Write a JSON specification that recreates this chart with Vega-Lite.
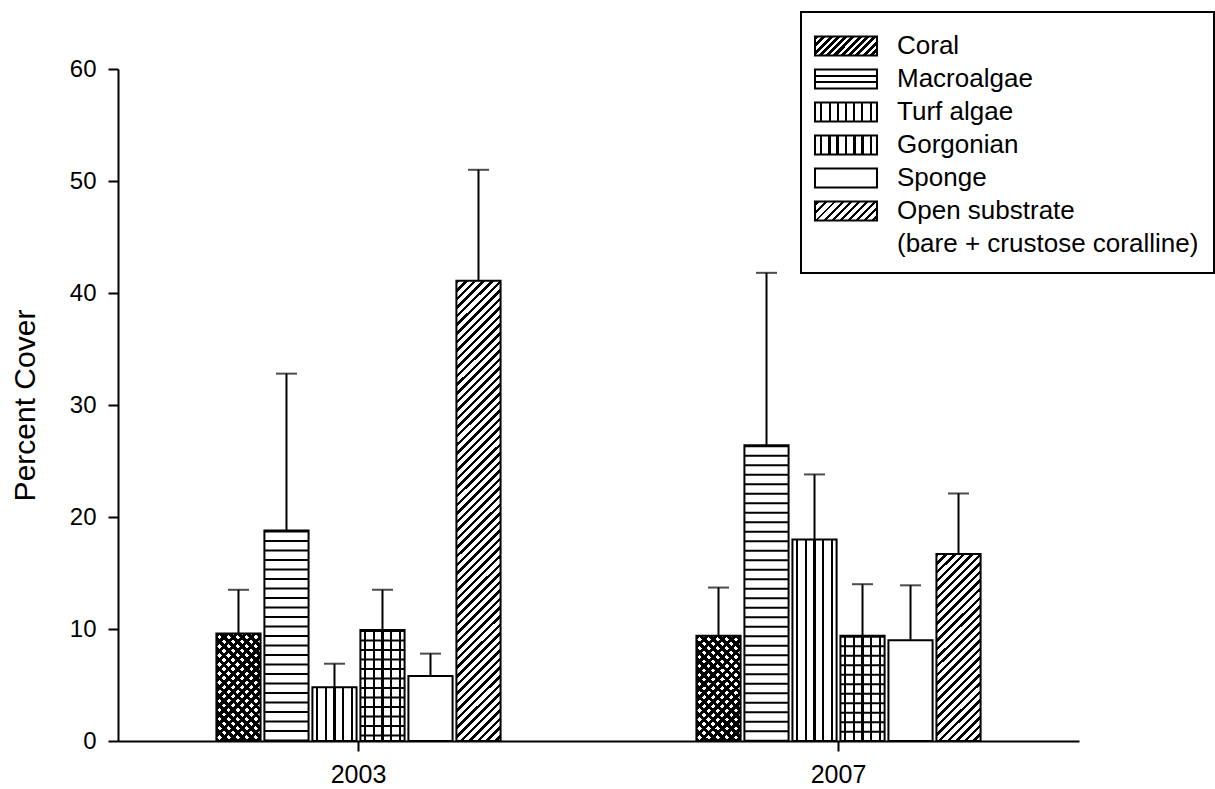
{
  "$schema": "https://vega.github.io/schema/vega-lite/v6.json",
  "width": 961,
  "height": 672,
  "autosize": {"type": "none"},
  "padding": {"left": 118, "top": 69, "right": 136, "bottom": 48},
  "background": "white",
  "config": {
    "view": {"stroke": null},
    "font": "Liberation Sans",
    "axis": {"domainColor": "black", "domainWidth": 2, "tickColor": "black", "tickWidth": 2, "labelColor": "black", "titleColor": "black", "grid": false},
    "legend": {"strokeWidth": 2}
  },
  "data": {
    "values": [
      {"year": "2003", "type": "Coral", "value": 9.6, "upper": 13.5},
      {"year": "2003", "type": "Macroalgae", "value": 18.8, "upper": 32.8},
      {"year": "2003", "type": "Turf algae", "value": 4.8, "upper": 6.9},
      {"year": "2003", "type": "Gorgonian", "value": 9.9, "upper": 13.5},
      {"year": "2003", "type": "Sponge", "value": 5.8, "upper": 7.8},
      {"year": "2003", "type": "Open substrate", "value": 41.1, "upper": 51.0},
      {"year": "2007", "type": "Coral", "value": 9.4, "upper": 13.7},
      {"year": "2007", "type": "Macroalgae", "value": 26.4, "upper": 41.8},
      {"year": "2007", "type": "Turf algae", "value": 18.0, "upper": 23.8},
      {"year": "2007", "type": "Gorgonian", "value": 9.4, "upper": 14.0},
      {"year": "2007", "type": "Sponge", "value": 9.0, "upper": 13.9},
      {"year": "2007", "type": "Open substrate", "value": 16.7, "upper": 22.1}
    ]
  },
  "encoding": {
    "x": {
      "field": "year", "type": "nominal",
      "scale": {"domain": ["2003", "2007"], "paddingInner": 0.408, "paddingOuter": 0.205},
      "axis": {"title": null, "labelAngle": 0, "labelFontSize": 25, "tickSize": 10, "labelPadding": 11}
    },
    "xOffset": {
      "field": "type", "type": "nominal",
      "scale": {"domain": ["Coral", "Macroalgae", "Turf algae", "Gorgonian", "Sponge", "Open substrate"], "paddingInner": 0.08, "paddingOuter": 0}
    }
  },
  "layer": [
    {
      "mark": {"type": "bar", "fill": "white", "stroke": "black", "strokeWidth": 2},
      "encoding": {
        "y": {
          "field": "value", "type": "quantitative",
          "scale": {"domain": [0, 60], "nice": false},
          "axis": {"title": "Percent Cover", "titleFontSize": 30, "titleFontWeight": "normal", "titleX": -84, "titleY": 336, "titleBaseline": "alphabetic", "values": [0, 10, 20, 30, 40, 50, 60], "labelFontSize": 24, "tickSize": 10, "labelPadding": 12}
        }
      }
    },
    {
      "transform": [{"filter": "false"}],
      "mark": {"type": "bar", "strokeWidth": 2},
      "encoding": {
        "y": {"field": "value", "type": "quantitative"},
        "fill": {
          "field": "type", "type": "nominal",
          "scale": {
            "domain": ["Coral", "Macroalgae", "Turf algae", "Gorgonian", "Sponge", "Open substrate", "(bare + crustose coralline)"],
            "range": [
              {"expr": "{gradient:'linear',x1:0,y1:0,x2:1.195,y2:0.37,stops:[{offset:0,color:'#000'},{offset:0.05,color:'#000'},{offset:0.05,color:'#fff'},{offset:0.09,color:'#fff'},{offset:0.09,color:'#000'},{offset:0.14,color:'#000'},{offset:0.14,color:'#fff'},{offset:0.18,color:'#fff'},{offset:0.18,color:'#000'},{offset:0.23,color:'#000'},{offset:0.23,color:'#fff'},{offset:0.27,color:'#fff'},{offset:0.27,color:'#000'},{offset:0.32,color:'#000'},{offset:0.32,color:'#fff'},{offset:0.36,color:'#fff'},{offset:0.36,color:'#000'},{offset:0.41,color:'#000'},{offset:0.41,color:'#fff'},{offset:0.45,color:'#fff'},{offset:0.45,color:'#000'},{offset:0.5,color:'#000'},{offset:0.5,color:'#fff'},{offset:0.54,color:'#fff'},{offset:0.54,color:'#000'},{offset:0.59,color:'#000'},{offset:0.59,color:'#fff'},{offset:0.63,color:'#fff'},{offset:0.63,color:'#000'},{offset:0.68,color:'#000'},{offset:0.68,color:'#fff'},{offset:0.72,color:'#fff'},{offset:0.72,color:'#000'},{offset:0.77,color:'#000'},{offset:0.77,color:'#fff'},{offset:0.81,color:'#fff'},{offset:0.81,color:'#000'},{offset:0.86,color:'#000'},{offset:0.86,color:'#fff'},{offset:0.9,color:'#fff'},{offset:0.9,color:'#000'},{offset:0.95,color:'#000'},{offset:0.95,color:'#fff'},{offset:0.99,color:'#fff'},{offset:0.99,color:'#000'},{offset:1,color:'#000'}]}"},
              {"expr": "{gradient:'linear',x1:0,y1:0,x2:0,y2:1,stops:[{offset:0,color:'#fff'},{offset:0.3,color:'#fff'},{offset:0.3,color:'#000'},{offset:0.38,color:'#000'},{offset:0.38,color:'#fff'},{offset:0.62,color:'#fff'},{offset:0.62,color:'#000'},{offset:0.7,color:'#000'},{offset:0.7,color:'#fff'},{offset:1,color:'#fff'}]}"},
              {"expr": "{gradient:'linear',x1:0,y1:0,x2:1,y2:0,stops:[{offset:0,color:'#fff'},{offset:0.084,color:'#fff'},{offset:0.084,color:'#000'},{offset:0.116,color:'#000'},{offset:0.116,color:'#fff'},{offset:0.219,color:'#fff'},{offset:0.219,color:'#000'},{offset:0.251,color:'#000'},{offset:0.251,color:'#fff'},{offset:0.349,color:'#fff'},{offset:0.349,color:'#000'},{offset:0.381,color:'#000'},{offset:0.381,color:'#fff'},{offset:0.484,color:'#fff'},{offset:0.484,color:'#000'},{offset:0.516,color:'#000'},{offset:0.516,color:'#fff'},{offset:0.619,color:'#fff'},{offset:0.619,color:'#000'},{offset:0.651,color:'#000'},{offset:0.651,color:'#fff'},{offset:0.749,color:'#fff'},{offset:0.749,color:'#000'},{offset:0.781,color:'#000'},{offset:0.781,color:'#fff'},{offset:0.884,color:'#fff'},{offset:0.884,color:'#000'},{offset:0.916,color:'#000'},{offset:0.916,color:'#fff'},{offset:1,color:'#fff'}]}"},
              {"expr": "{gradient:'linear',x1:0,y1:0,x2:1,y2:0,stops:[{offset:0,color:'#fff'},{offset:0.084,color:'#fff'},{offset:0.084,color:'#000'},{offset:0.12,color:'#000'},{offset:0.12,color:'#fff'},{offset:0.215,color:'#fff'},{offset:0.215,color:'#000'},{offset:0.251,color:'#000'},{offset:0.251,color:'#fff'},{offset:0.345,color:'#fff'},{offset:0.345,color:'#000'},{offset:0.381,color:'#000'},{offset:0.381,color:'#fff'},{offset:0.48,color:'#fff'},{offset:0.48,color:'#000'},{offset:0.52,color:'#000'},{offset:0.52,color:'#fff'},{offset:0.619,color:'#fff'},{offset:0.619,color:'#000'},{offset:0.655,color:'#000'},{offset:0.655,color:'#fff'},{offset:0.749,color:'#fff'},{offset:0.749,color:'#000'},{offset:0.785,color:'#000'},{offset:0.785,color:'#fff'},{offset:0.88,color:'#fff'},{offset:0.88,color:'#000'},{offset:0.916,color:'#000'},{offset:0.916,color:'#fff'},{offset:1,color:'#fff'}]}"},
              "white",
              {"expr": "{gradient:'linear',x1:0,y1:0,x2:1.195,y2:0.37,stops:[{offset:0,color:'#fff'},{offset:0.03,color:'#fff'},{offset:0.03,color:'#000'},{offset:0.065,color:'#000'},{offset:0.065,color:'#fff'},{offset:0.13,color:'#fff'},{offset:0.13,color:'#000'},{offset:0.165,color:'#000'},{offset:0.165,color:'#fff'},{offset:0.23,color:'#fff'},{offset:0.23,color:'#000'},{offset:0.265,color:'#000'},{offset:0.265,color:'#fff'},{offset:0.33,color:'#fff'},{offset:0.33,color:'#000'},{offset:0.365,color:'#000'},{offset:0.365,color:'#fff'},{offset:0.43,color:'#fff'},{offset:0.43,color:'#000'},{offset:0.465,color:'#000'},{offset:0.465,color:'#fff'},{offset:0.53,color:'#fff'},{offset:0.53,color:'#000'},{offset:0.565,color:'#000'},{offset:0.565,color:'#fff'},{offset:0.63,color:'#fff'},{offset:0.63,color:'#000'},{offset:0.665,color:'#000'},{offset:0.665,color:'#fff'},{offset:0.73,color:'#fff'},{offset:0.73,color:'#000'},{offset:0.765,color:'#000'},{offset:0.765,color:'#fff'},{offset:0.83,color:'#fff'},{offset:0.83,color:'#000'},{offset:0.865,color:'#000'},{offset:0.865,color:'#fff'},{offset:0.93,color:'#fff'},{offset:0.93,color:'#000'},{offset:0.965,color:'#000'},{offset:0.965,color:'#fff'},{offset:1,color:'#fff'}]}"},
              "transparent"
            ]
          },
          "legend": {
            "title": null,
            "orient": "none",
            "legendX": 683,
            "legendY": -57,
            "direction": "vertical",
            "padding": 15,
            "strokeColor": "black",
            "symbolType": "M-1.722,-0.534H1.722V0.534H-1.722Z",
            "symbolSize": 1296,
            "symbolStrokeWidth": 2,
            "symbolOpacity": 1,
            "symbolOffset": 11,
            "labelFontSize": 26,
            "labelColor": "black",
            "labelOffset": 32,
            "labelLimit": 500,
            "rowPadding": 0
          }
        },
        "stroke": {
          "field": "type", "type": "nominal",
          "scale": {
            "domain": ["Coral", "Macroalgae", "Turf algae", "Gorgonian", "Sponge", "Open substrate", "(bare + crustose coralline)"],
            "range": ["black", "black", "black", "black", "black", "black", "transparent"]
          }
        }
      }
    },
    {
      "transform": [{"filter": "datum.type === 'Turf algae' || datum.type === 'Gorgonian'"}],
      "mark": {"type": "bar", "stroke": null, "fill": {"gradient": "linear", "x1": 0, "y1": 0, "x2": 1, "y2": 0, "stops": [
        {"offset": 0, "color": "transparent"},
        {"offset": 0.08, "color": "transparent"}, {"offset": 0.08, "color": "#000"}, {"offset": 0.125, "color": "#000"}, {"offset": 0.125, "color": "transparent"},
        {"offset": 0.28, "color": "transparent"}, {"offset": 0.28, "color": "#000"}, {"offset": 0.325, "color": "#000"}, {"offset": 0.325, "color": "transparent"},
        {"offset": 0.477, "color": "transparent"}, {"offset": 0.477, "color": "#000"}, {"offset": 0.523, "color": "#000"}, {"offset": 0.523, "color": "transparent"},
        {"offset": 0.675, "color": "transparent"}, {"offset": 0.675, "color": "#000"}, {"offset": 0.72, "color": "#000"}, {"offset": 0.72, "color": "transparent"},
        {"offset": 0.875, "color": "transparent"}, {"offset": 0.875, "color": "#000"}, {"offset": 0.92, "color": "#000"}, {"offset": 0.92, "color": "transparent"},
        {"offset": 1, "color": "transparent"}
      ]}},
      "encoding": {"y": {"field": "value", "type": "quantitative"}}
    },
    {
      "transform": [{"filter": "datum.type === 'Coral'"}],
      "mark": {"type": "bar", "stroke": null, "fill": {"gradient": "linear", "x1": 0, "y1": 0, "x2": 0.4964, "y2": 1.2071, "stops": [
        {"offset": 0, "color": "#000"}, {"offset": 0.03, "color": "#000"}, {"offset": 0.03, "color": "transparent"},
        {"offset": 0.06, "color": "transparent"}, {"offset": 0.06, "color": "#000"}, {"offset": 0.09, "color": "#000"}, {"offset": 0.09, "color": "transparent"},
        {"offset": 0.12, "color": "transparent"}, {"offset": 0.12, "color": "#000"}, {"offset": 0.15, "color": "#000"}, {"offset": 0.15, "color": "transparent"},
        {"offset": 0.18, "color": "transparent"}, {"offset": 0.18, "color": "#000"}, {"offset": 0.21, "color": "#000"}, {"offset": 0.21, "color": "transparent"},
        {"offset": 0.24, "color": "transparent"}, {"offset": 0.24, "color": "#000"}, {"offset": 0.27, "color": "#000"}, {"offset": 0.27, "color": "transparent"},
        {"offset": 0.30, "color": "transparent"}, {"offset": 0.30, "color": "#000"}, {"offset": 0.33, "color": "#000"}, {"offset": 0.33, "color": "transparent"},
        {"offset": 0.36, "color": "transparent"}, {"offset": 0.36, "color": "#000"}, {"offset": 0.39, "color": "#000"}, {"offset": 0.39, "color": "transparent"},
        {"offset": 0.42, "color": "transparent"}, {"offset": 0.42, "color": "#000"}, {"offset": 0.45, "color": "#000"}, {"offset": 0.45, "color": "transparent"},
        {"offset": 0.48, "color": "transparent"}, {"offset": 0.48, "color": "#000"}, {"offset": 0.51, "color": "#000"}, {"offset": 0.51, "color": "transparent"},
        {"offset": 0.54, "color": "transparent"}, {"offset": 0.54, "color": "#000"}, {"offset": 0.57, "color": "#000"}, {"offset": 0.57, "color": "transparent"},
        {"offset": 0.60, "color": "transparent"}, {"offset": 0.60, "color": "#000"}, {"offset": 0.63, "color": "#000"}, {"offset": 0.63, "color": "transparent"},
        {"offset": 0.66, "color": "transparent"}, {"offset": 0.66, "color": "#000"}, {"offset": 0.69, "color": "#000"}, {"offset": 0.69, "color": "transparent"},
        {"offset": 0.72, "color": "transparent"}, {"offset": 0.72, "color": "#000"}, {"offset": 0.75, "color": "#000"}, {"offset": 0.75, "color": "transparent"},
        {"offset": 0.78, "color": "transparent"}, {"offset": 0.78, "color": "#000"}, {"offset": 0.81, "color": "#000"}, {"offset": 0.81, "color": "transparent"},
        {"offset": 0.84, "color": "transparent"}, {"offset": 0.84, "color": "#000"}, {"offset": 0.87, "color": "#000"}, {"offset": 0.87, "color": "transparent"},
        {"offset": 0.90, "color": "transparent"}, {"offset": 0.90, "color": "#000"}, {"offset": 0.93, "color": "#000"}, {"offset": 0.93, "color": "transparent"},
        {"offset": 0.96, "color": "transparent"}, {"offset": 0.96, "color": "#000"}, {"offset": 0.99, "color": "#000"}, {"offset": 0.99, "color": "transparent"},
        {"offset": 1, "color": "transparent"}
      ]}},
      "encoding": {"y": {"field": "value", "type": "quantitative"}}
    },
    {
      "transform": [{"filter": "datum.type === 'Coral'"}],
      "mark": {"type": "bar", "stroke": null, "fill": {"gradient": "linear", "x1": 0, "y1": 1, "x2": 0.4964, "y2": -0.2071, "stops": [
        {"offset": 0, "color": "#000"}, {"offset": 0.03, "color": "#000"}, {"offset": 0.03, "color": "transparent"},
        {"offset": 0.06, "color": "transparent"}, {"offset": 0.06, "color": "#000"}, {"offset": 0.09, "color": "#000"}, {"offset": 0.09, "color": "transparent"},
        {"offset": 0.12, "color": "transparent"}, {"offset": 0.12, "color": "#000"}, {"offset": 0.15, "color": "#000"}, {"offset": 0.15, "color": "transparent"},
        {"offset": 0.18, "color": "transparent"}, {"offset": 0.18, "color": "#000"}, {"offset": 0.21, "color": "#000"}, {"offset": 0.21, "color": "transparent"},
        {"offset": 0.24, "color": "transparent"}, {"offset": 0.24, "color": "#000"}, {"offset": 0.27, "color": "#000"}, {"offset": 0.27, "color": "transparent"},
        {"offset": 0.30, "color": "transparent"}, {"offset": 0.30, "color": "#000"}, {"offset": 0.33, "color": "#000"}, {"offset": 0.33, "color": "transparent"},
        {"offset": 0.36, "color": "transparent"}, {"offset": 0.36, "color": "#000"}, {"offset": 0.39, "color": "#000"}, {"offset": 0.39, "color": "transparent"},
        {"offset": 0.42, "color": "transparent"}, {"offset": 0.42, "color": "#000"}, {"offset": 0.45, "color": "#000"}, {"offset": 0.45, "color": "transparent"},
        {"offset": 0.48, "color": "transparent"}, {"offset": 0.48, "color": "#000"}, {"offset": 0.51, "color": "#000"}, {"offset": 0.51, "color": "transparent"},
        {"offset": 0.54, "color": "transparent"}, {"offset": 0.54, "color": "#000"}, {"offset": 0.57, "color": "#000"}, {"offset": 0.57, "color": "transparent"},
        {"offset": 0.60, "color": "transparent"}, {"offset": 0.60, "color": "#000"}, {"offset": 0.63, "color": "#000"}, {"offset": 0.63, "color": "transparent"},
        {"offset": 0.66, "color": "transparent"}, {"offset": 0.66, "color": "#000"}, {"offset": 0.69, "color": "#000"}, {"offset": 0.69, "color": "transparent"},
        {"offset": 0.72, "color": "transparent"}, {"offset": 0.72, "color": "#000"}, {"offset": 0.75, "color": "#000"}, {"offset": 0.75, "color": "transparent"},
        {"offset": 0.78, "color": "transparent"}, {"offset": 0.78, "color": "#000"}, {"offset": 0.81, "color": "#000"}, {"offset": 0.81, "color": "transparent"},
        {"offset": 0.84, "color": "transparent"}, {"offset": 0.84, "color": "#000"}, {"offset": 0.87, "color": "#000"}, {"offset": 0.87, "color": "transparent"},
        {"offset": 0.90, "color": "transparent"}, {"offset": 0.90, "color": "#000"}, {"offset": 0.93, "color": "#000"}, {"offset": 0.93, "color": "transparent"},
        {"offset": 0.96, "color": "transparent"}, {"offset": 0.96, "color": "#000"}, {"offset": 0.99, "color": "#000"}, {"offset": 0.99, "color": "transparent"},
        {"offset": 1, "color": "transparent"}
      ]}},
      "encoding": {"y": {"field": "value", "type": "quantitative"}}
    },
    {
      "transform": [{"filter": "datum.type === 'Open substrate' && datum.year === '2003'"}],
      "mark": {"type": "bar", "stroke": null, "fill": {"gradient": "linear", "x1": 0, "y1": 0, "x2": 0.1038, "y2": 1.0857, "stops": [
        {"offset": 0, "color": "#000"}, {"offset": 0.007, "color": "#000"}, {"offset": 0.007, "color": "transparent"},
        {"offset": 0.017, "color": "transparent"}, {"offset": 0.017, "color": "#000"}, {"offset": 0.024, "color": "#000"}, {"offset": 0.024, "color": "transparent"},
        {"offset": 0.034, "color": "transparent"}, {"offset": 0.034, "color": "#000"}, {"offset": 0.041, "color": "#000"}, {"offset": 0.041, "color": "transparent"},
        {"offset": 0.051, "color": "transparent"}, {"offset": 0.051, "color": "#000"}, {"offset": 0.058, "color": "#000"}, {"offset": 0.058, "color": "transparent"},
        {"offset": 0.068, "color": "transparent"}, {"offset": 0.068, "color": "#000"}, {"offset": 0.075, "color": "#000"}, {"offset": 0.075, "color": "transparent"},
        {"offset": 0.085, "color": "transparent"}, {"offset": 0.085, "color": "#000"}, {"offset": 0.092, "color": "#000"}, {"offset": 0.092, "color": "transparent"},
        {"offset": 0.102, "color": "transparent"}, {"offset": 0.102, "color": "#000"}, {"offset": 0.109, "color": "#000"}, {"offset": 0.109, "color": "transparent"},
        {"offset": 0.119, "color": "transparent"}, {"offset": 0.119, "color": "#000"}, {"offset": 0.126, "color": "#000"}, {"offset": 0.126, "color": "transparent"},
        {"offset": 0.136, "color": "transparent"}, {"offset": 0.136, "color": "#000"}, {"offset": 0.143, "color": "#000"}, {"offset": 0.143, "color": "transparent"},
        {"offset": 0.153, "color": "transparent"}, {"offset": 0.153, "color": "#000"}, {"offset": 0.16, "color": "#000"}, {"offset": 0.16, "color": "transparent"},
        {"offset": 0.17, "color": "transparent"}, {"offset": 0.17, "color": "#000"}, {"offset": 0.177, "color": "#000"}, {"offset": 0.177, "color": "transparent"},
        {"offset": 0.187, "color": "transparent"}, {"offset": 0.187, "color": "#000"}, {"offset": 0.194, "color": "#000"}, {"offset": 0.194, "color": "transparent"},
        {"offset": 0.204, "color": "transparent"}, {"offset": 0.204, "color": "#000"}, {"offset": 0.211, "color": "#000"}, {"offset": 0.211, "color": "transparent"},
        {"offset": 0.221, "color": "transparent"}, {"offset": 0.221, "color": "#000"}, {"offset": 0.228, "color": "#000"}, {"offset": 0.228, "color": "transparent"},
        {"offset": 0.238, "color": "transparent"}, {"offset": 0.238, "color": "#000"}, {"offset": 0.245, "color": "#000"}, {"offset": 0.245, "color": "transparent"},
        {"offset": 0.255, "color": "transparent"}, {"offset": 0.255, "color": "#000"}, {"offset": 0.262, "color": "#000"}, {"offset": 0.262, "color": "transparent"},
        {"offset": 0.272, "color": "transparent"}, {"offset": 0.272, "color": "#000"}, {"offset": 0.279, "color": "#000"}, {"offset": 0.279, "color": "transparent"},
        {"offset": 0.289, "color": "transparent"}, {"offset": 0.289, "color": "#000"}, {"offset": 0.296, "color": "#000"}, {"offset": 0.296, "color": "transparent"},
        {"offset": 0.306, "color": "transparent"}, {"offset": 0.306, "color": "#000"}, {"offset": 0.313, "color": "#000"}, {"offset": 0.313, "color": "transparent"},
        {"offset": 0.323, "color": "transparent"}, {"offset": 0.323, "color": "#000"}, {"offset": 0.33, "color": "#000"}, {"offset": 0.33, "color": "transparent"},
        {"offset": 0.34, "color": "transparent"}, {"offset": 0.34, "color": "#000"}, {"offset": 0.347, "color": "#000"}, {"offset": 0.347, "color": "transparent"},
        {"offset": 0.357, "color": "transparent"}, {"offset": 0.357, "color": "#000"}, {"offset": 0.364, "color": "#000"}, {"offset": 0.364, "color": "transparent"},
        {"offset": 0.374, "color": "transparent"}, {"offset": 0.374, "color": "#000"}, {"offset": 0.381, "color": "#000"}, {"offset": 0.381, "color": "transparent"},
        {"offset": 0.391, "color": "transparent"}, {"offset": 0.391, "color": "#000"}, {"offset": 0.398, "color": "#000"}, {"offset": 0.398, "color": "transparent"},
        {"offset": 0.408, "color": "transparent"}, {"offset": 0.408, "color": "#000"}, {"offset": 0.415, "color": "#000"}, {"offset": 0.415, "color": "transparent"},
        {"offset": 0.425, "color": "transparent"}, {"offset": 0.425, "color": "#000"}, {"offset": 0.432, "color": "#000"}, {"offset": 0.432, "color": "transparent"},
        {"offset": 0.442, "color": "transparent"}, {"offset": 0.442, "color": "#000"}, {"offset": 0.449, "color": "#000"}, {"offset": 0.449, "color": "transparent"},
        {"offset": 0.459, "color": "transparent"}, {"offset": 0.459, "color": "#000"}, {"offset": 0.466, "color": "#000"}, {"offset": 0.466, "color": "transparent"},
        {"offset": 0.476, "color": "transparent"}, {"offset": 0.476, "color": "#000"}, {"offset": 0.483, "color": "#000"}, {"offset": 0.483, "color": "transparent"},
        {"offset": 0.493, "color": "transparent"}, {"offset": 0.493, "color": "#000"}, {"offset": 0.5, "color": "#000"}, {"offset": 0.5, "color": "transparent"},
        {"offset": 0.51, "color": "transparent"}, {"offset": 0.51, "color": "#000"}, {"offset": 0.517, "color": "#000"}, {"offset": 0.517, "color": "transparent"},
        {"offset": 0.527, "color": "transparent"}, {"offset": 0.527, "color": "#000"}, {"offset": 0.534, "color": "#000"}, {"offset": 0.534, "color": "transparent"},
        {"offset": 0.544, "color": "transparent"}, {"offset": 0.544, "color": "#000"}, {"offset": 0.551, "color": "#000"}, {"offset": 0.551, "color": "transparent"},
        {"offset": 0.561, "color": "transparent"}, {"offset": 0.561, "color": "#000"}, {"offset": 0.568, "color": "#000"}, {"offset": 0.568, "color": "transparent"},
        {"offset": 0.578, "color": "transparent"}, {"offset": 0.578, "color": "#000"}, {"offset": 0.585, "color": "#000"}, {"offset": 0.585, "color": "transparent"},
        {"offset": 0.595, "color": "transparent"}, {"offset": 0.595, "color": "#000"}, {"offset": 0.602, "color": "#000"}, {"offset": 0.602, "color": "transparent"},
        {"offset": 0.612, "color": "transparent"}, {"offset": 0.612, "color": "#000"}, {"offset": 0.619, "color": "#000"}, {"offset": 0.619, "color": "transparent"},
        {"offset": 0.629, "color": "transparent"}, {"offset": 0.629, "color": "#000"}, {"offset": 0.636, "color": "#000"}, {"offset": 0.636, "color": "transparent"},
        {"offset": 0.646, "color": "transparent"}, {"offset": 0.646, "color": "#000"}, {"offset": 0.653, "color": "#000"}, {"offset": 0.653, "color": "transparent"},
        {"offset": 0.663, "color": "transparent"}, {"offset": 0.663, "color": "#000"}, {"offset": 0.67, "color": "#000"}, {"offset": 0.67, "color": "transparent"},
        {"offset": 0.68, "color": "transparent"}, {"offset": 0.68, "color": "#000"}, {"offset": 0.687, "color": "#000"}, {"offset": 0.687, "color": "transparent"},
        {"offset": 0.697, "color": "transparent"}, {"offset": 0.697, "color": "#000"}, {"offset": 0.704, "color": "#000"}, {"offset": 0.704, "color": "transparent"},
        {"offset": 0.714, "color": "transparent"}, {"offset": 0.714, "color": "#000"}, {"offset": 0.721, "color": "#000"}, {"offset": 0.721, "color": "transparent"},
        {"offset": 0.731, "color": "transparent"}, {"offset": 0.731, "color": "#000"}, {"offset": 0.738, "color": "#000"}, {"offset": 0.738, "color": "transparent"},
        {"offset": 0.748, "color": "transparent"}, {"offset": 0.748, "color": "#000"}, {"offset": 0.755, "color": "#000"}, {"offset": 0.755, "color": "transparent"},
        {"offset": 0.765, "color": "transparent"}, {"offset": 0.765, "color": "#000"}, {"offset": 0.772, "color": "#000"}, {"offset": 0.772, "color": "transparent"},
        {"offset": 0.782, "color": "transparent"}, {"offset": 0.782, "color": "#000"}, {"offset": 0.789, "color": "#000"}, {"offset": 0.789, "color": "transparent"},
        {"offset": 0.799, "color": "transparent"}, {"offset": 0.799, "color": "#000"}, {"offset": 0.806, "color": "#000"}, {"offset": 0.806, "color": "transparent"},
        {"offset": 0.816, "color": "transparent"}, {"offset": 0.816, "color": "#000"}, {"offset": 0.823, "color": "#000"}, {"offset": 0.823, "color": "transparent"},
        {"offset": 0.833, "color": "transparent"}, {"offset": 0.833, "color": "#000"}, {"offset": 0.84, "color": "#000"}, {"offset": 0.84, "color": "transparent"},
        {"offset": 0.85, "color": "transparent"}, {"offset": 0.85, "color": "#000"}, {"offset": 0.857, "color": "#000"}, {"offset": 0.857, "color": "transparent"},
        {"offset": 0.867, "color": "transparent"}, {"offset": 0.867, "color": "#000"}, {"offset": 0.874, "color": "#000"}, {"offset": 0.874, "color": "transparent"},
        {"offset": 0.884, "color": "transparent"}, {"offset": 0.884, "color": "#000"}, {"offset": 0.891, "color": "#000"}, {"offset": 0.891, "color": "transparent"},
        {"offset": 0.901, "color": "transparent"}, {"offset": 0.901, "color": "#000"}, {"offset": 0.908, "color": "#000"}, {"offset": 0.908, "color": "transparent"},
        {"offset": 0.918, "color": "transparent"}, {"offset": 0.918, "color": "#000"}, {"offset": 0.925, "color": "#000"}, {"offset": 0.925, "color": "transparent"},
        {"offset": 0.935, "color": "transparent"}, {"offset": 0.935, "color": "#000"}, {"offset": 0.942, "color": "#000"}, {"offset": 0.942, "color": "transparent"},
        {"offset": 0.952, "color": "transparent"}, {"offset": 0.952, "color": "#000"}, {"offset": 0.959, "color": "#000"}, {"offset": 0.959, "color": "transparent"},
        {"offset": 0.969, "color": "transparent"}, {"offset": 0.969, "color": "#000"}, {"offset": 0.976, "color": "#000"}, {"offset": 0.976, "color": "transparent"},
        {"offset": 0.986, "color": "transparent"}, {"offset": 0.986, "color": "#000"}, {"offset": 0.993, "color": "#000"}, {"offset": 0.993, "color": "transparent"},
        {"offset": 1, "color": "transparent"}
      ]}},
      "encoding": {"y": {"field": "value", "type": "quantitative"}}
    },
    {
      "transform": [{"filter": "datum.type === 'Open substrate' && datum.year === '2007'"}],
      "mark": {"type": "bar", "stroke": null, "fill": {"gradient": "linear", "x1": 0, "y1": 0, "x2": 0.2749, "y2": 1.1704, "stops": [
        {"offset": 0, "color": "#000"}, {"offset": 0.015, "color": "#000"}, {"offset": 0.015, "color": "transparent"},
        {"offset": 0.037, "color": "transparent"}, {"offset": 0.037, "color": "#000"}, {"offset": 0.052, "color": "#000"}, {"offset": 0.052, "color": "transparent"},
        {"offset": 0.074, "color": "transparent"}, {"offset": 0.074, "color": "#000"}, {"offset": 0.089, "color": "#000"}, {"offset": 0.089, "color": "transparent"},
        {"offset": 0.111, "color": "transparent"}, {"offset": 0.111, "color": "#000"}, {"offset": 0.126, "color": "#000"}, {"offset": 0.126, "color": "transparent"},
        {"offset": 0.148, "color": "transparent"}, {"offset": 0.148, "color": "#000"}, {"offset": 0.163, "color": "#000"}, {"offset": 0.163, "color": "transparent"},
        {"offset": 0.185, "color": "transparent"}, {"offset": 0.185, "color": "#000"}, {"offset": 0.2, "color": "#000"}, {"offset": 0.2, "color": "transparent"},
        {"offset": 0.222, "color": "transparent"}, {"offset": 0.222, "color": "#000"}, {"offset": 0.237, "color": "#000"}, {"offset": 0.237, "color": "transparent"},
        {"offset": 0.259, "color": "transparent"}, {"offset": 0.259, "color": "#000"}, {"offset": 0.274, "color": "#000"}, {"offset": 0.274, "color": "transparent"},
        {"offset": 0.296, "color": "transparent"}, {"offset": 0.296, "color": "#000"}, {"offset": 0.311, "color": "#000"}, {"offset": 0.311, "color": "transparent"},
        {"offset": 0.333, "color": "transparent"}, {"offset": 0.333, "color": "#000"}, {"offset": 0.348, "color": "#000"}, {"offset": 0.348, "color": "transparent"},
        {"offset": 0.37, "color": "transparent"}, {"offset": 0.37, "color": "#000"}, {"offset": 0.385, "color": "#000"}, {"offset": 0.385, "color": "transparent"},
        {"offset": 0.407, "color": "transparent"}, {"offset": 0.407, "color": "#000"}, {"offset": 0.422, "color": "#000"}, {"offset": 0.422, "color": "transparent"},
        {"offset": 0.444, "color": "transparent"}, {"offset": 0.444, "color": "#000"}, {"offset": 0.459, "color": "#000"}, {"offset": 0.459, "color": "transparent"},
        {"offset": 0.481, "color": "transparent"}, {"offset": 0.481, "color": "#000"}, {"offset": 0.496, "color": "#000"}, {"offset": 0.496, "color": "transparent"},
        {"offset": 0.518, "color": "transparent"}, {"offset": 0.518, "color": "#000"}, {"offset": 0.533, "color": "#000"}, {"offset": 0.533, "color": "transparent"},
        {"offset": 0.555, "color": "transparent"}, {"offset": 0.555, "color": "#000"}, {"offset": 0.57, "color": "#000"}, {"offset": 0.57, "color": "transparent"},
        {"offset": 0.592, "color": "transparent"}, {"offset": 0.592, "color": "#000"}, {"offset": 0.607, "color": "#000"}, {"offset": 0.607, "color": "transparent"},
        {"offset": 0.629, "color": "transparent"}, {"offset": 0.629, "color": "#000"}, {"offset": 0.644, "color": "#000"}, {"offset": 0.644, "color": "transparent"},
        {"offset": 0.666, "color": "transparent"}, {"offset": 0.666, "color": "#000"}, {"offset": 0.681, "color": "#000"}, {"offset": 0.681, "color": "transparent"},
        {"offset": 0.703, "color": "transparent"}, {"offset": 0.703, "color": "#000"}, {"offset": 0.718, "color": "#000"}, {"offset": 0.718, "color": "transparent"},
        {"offset": 0.74, "color": "transparent"}, {"offset": 0.74, "color": "#000"}, {"offset": 0.755, "color": "#000"}, {"offset": 0.755, "color": "transparent"},
        {"offset": 0.777, "color": "transparent"}, {"offset": 0.777, "color": "#000"}, {"offset": 0.792, "color": "#000"}, {"offset": 0.792, "color": "transparent"},
        {"offset": 0.814, "color": "transparent"}, {"offset": 0.814, "color": "#000"}, {"offset": 0.829, "color": "#000"}, {"offset": 0.829, "color": "transparent"},
        {"offset": 0.851, "color": "transparent"}, {"offset": 0.851, "color": "#000"}, {"offset": 0.866, "color": "#000"}, {"offset": 0.866, "color": "transparent"},
        {"offset": 0.888, "color": "transparent"}, {"offset": 0.888, "color": "#000"}, {"offset": 0.903, "color": "#000"}, {"offset": 0.903, "color": "transparent"},
        {"offset": 0.925, "color": "transparent"}, {"offset": 0.925, "color": "#000"}, {"offset": 0.94, "color": "#000"}, {"offset": 0.94, "color": "transparent"},
        {"offset": 0.962, "color": "transparent"}, {"offset": 0.962, "color": "#000"}, {"offset": 0.977, "color": "#000"}, {"offset": 0.977, "color": "transparent"},
        {"offset": 1, "color": "transparent"}
      ]}},
      "encoding": {"y": {"field": "value", "type": "quantitative"}}
    },
    {
      "transform": [{"filter": "datum.type === 'Macroalgae' || datum.type === 'Gorgonian'"}],
      "mark": {"type": "rule", "color": "black", "strokeWidth": 44, "strokeDash": [2, 7.5], "strokeCap": "butt"},
      "encoding": {"y": {"field": "value", "type": "quantitative"}, "y2": {"datum": 0}}
    },
    {
      "mark": {"type": "rule", "color": "black", "strokeWidth": 2},
      "encoding": {"y": {"field": "value", "type": "quantitative"}, "y2": {"field": "upper"}}
    },
    {
      "mark": {"type": "tick", "color": "black", "thickness": 2, "size": 21},
      "encoding": {"y": {"field": "upper", "type": "quantitative"}}
    }
  ]
}
